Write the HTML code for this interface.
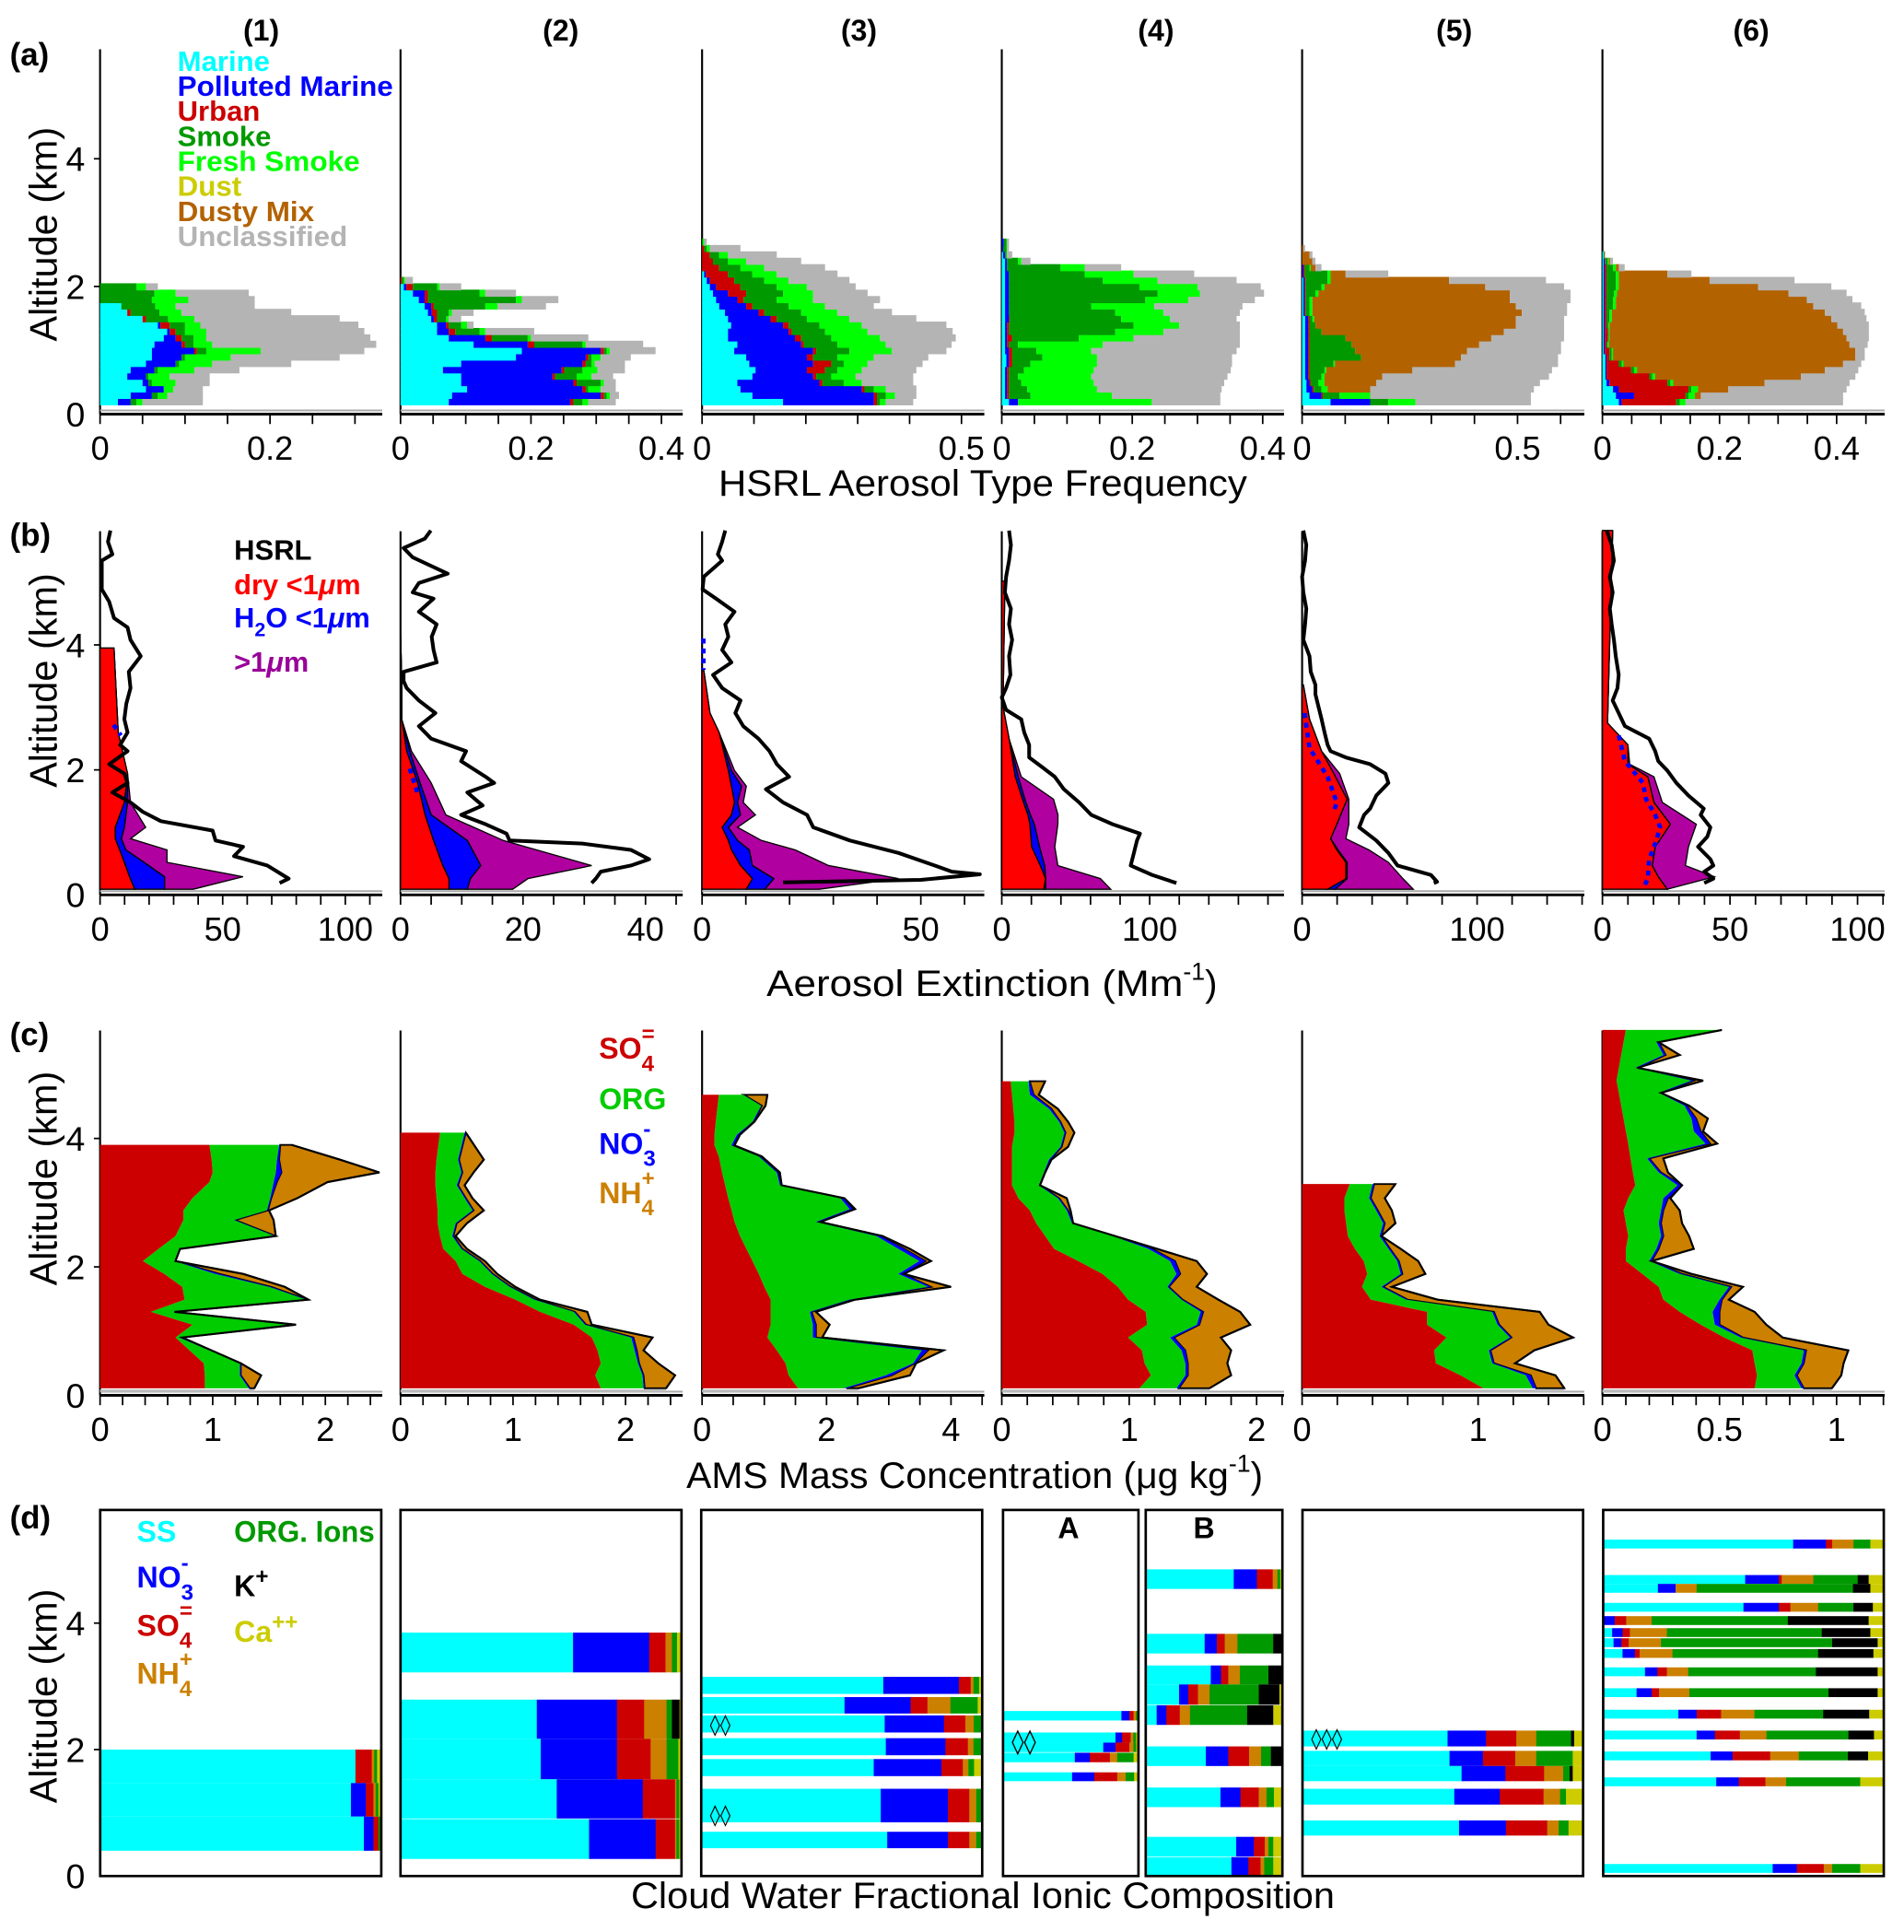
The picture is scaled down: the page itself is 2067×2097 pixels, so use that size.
<!DOCTYPE html>
<html>
<head>
<meta charset="utf-8">
<style>
html,body{margin:0;padding:0;background:#fff;}
svg{display:block;}
text{font-family:"Liberation Sans Narrow","Liberation Sans",sans-serif;}
.b{font-weight:bold;}
</style>
</head>
<body>
<svg id="chart" xmlns="http://www.w3.org/2000/svg" width="2067" height="2097" viewBox="0 0 1545 1567.4" preserveAspectRatio="none">
<rect x="0" y="0" width="1545" height="1567.4" fill="#fff"/>
<g id="static-text" font-size="24">
  <text class="b" x="212" y="33" text-anchor="middle" font-size="24">(1)</text>
  <text class="b" x="455" y="33" text-anchor="middle" font-size="24">(2)</text>
  <text class="b" x="697" y="33" text-anchor="middle" font-size="24">(3)</text>
  <text class="b" x="938" y="33" text-anchor="middle" font-size="24">(4)</text>
  <text class="b" x="1180" y="33" text-anchor="middle" font-size="24">(5)</text>
  <text class="b" x="1421" y="33" text-anchor="middle" font-size="24">(6)</text>
  <text class="b" x="8" y="53" font-size="26">(a)</text>
  <text class="b" x="8" y="443" font-size="26">(b)</text>
  <text class="b" x="8" y="848" font-size="26">(c)</text>
  <text class="b" x="8" y="1240" font-size="26">(d)</text>
  <text transform="translate(46,190) rotate(-90)" text-anchor="middle" font-size="31" style="font-family:'Liberation Sans',sans-serif">Altitude (km)</text>
  <text transform="translate(46,552) rotate(-90)" text-anchor="middle" font-size="31" style="font-family:'Liberation Sans',sans-serif">Altitude (km)</text>
  <text transform="translate(46,956) rotate(-90)" text-anchor="middle" font-size="31" style="font-family:'Liberation Sans',sans-serif">Altitude (km)</text>
  <text transform="translate(46,1376) rotate(-90)" text-anchor="middle" font-size="31" style="font-family:'Liberation Sans',sans-serif">Altitude (km)</text>
  <text x="583" y="402" font-size="30" textLength="429" lengthAdjust="spacingAndGlyphs">HSRL Aerosol Type Frequency</text>
  <text x="622" y="808" font-size="30"><tspan textLength="338" lengthAdjust="spacingAndGlyphs">Aerosol Extinction (Mm</tspan><tspan dy="-13" font-size="20">-1</tspan><tspan dy="13">)</tspan></text>
  <text x="557" y="1207" font-size="30"><tspan textLength="440" lengthAdjust="spacingAndGlyphs">AMS Mass Concentration (μg kg</tspan><tspan dy="-13" font-size="20">-1</tspan><tspan dy="13">)</tspan></text>
  <text x="512" y="1548" font-size="30" textLength="571" lengthAdjust="spacingAndGlyphs">Cloud Water Fractional Ionic Composition</text>

  <g class="b" font-size="23">
    <text x="144" y="57.5" fill="#00FFFF" textLength="75" lengthAdjust="spacingAndGlyphs">Marine</text>
    <text x="144" y="77.8" fill="#0000FF" textLength="175" lengthAdjust="spacingAndGlyphs">Polluted Marine</text>
    <text x="144" y="98.1" fill="#CC0000" textLength="67" lengthAdjust="spacingAndGlyphs">Urban</text>
    <text x="144" y="118.4" fill="#009900" textLength="76" lengthAdjust="spacingAndGlyphs">Smoke</text>
    <text x="144" y="138.7" fill="#00FF00" textLength="148" lengthAdjust="spacingAndGlyphs">Fresh Smoke</text>
    <text x="144" y="159" fill="#CCCC00" textLength="52" lengthAdjust="spacingAndGlyphs">Dust</text>
    <text x="144" y="179.3" fill="#B36200" textLength="111" lengthAdjust="spacingAndGlyphs">Dusty Mix</text>
    <text x="144" y="199.6" fill="#B4B4B4" textLength="138" lengthAdjust="spacingAndGlyphs">Unclassified</text>
  </g>
  <g class="b" font-size="23">
    <text x="190" y="454" fill="#000" textLength="63" lengthAdjust="spacingAndGlyphs">HSRL</text>
    <text x="190" y="482" fill="#FF0000">dry &lt;1<tspan font-style="italic">μ</tspan>m</text>
    <text x="190" y="509" fill="#0000FF">H<tspan dy="7" font-size="16">2</tspan><tspan dy="-7">O &lt;1</tspan><tspan font-style="italic">μ</tspan>m</text>
    <text x="190" y="545" fill="#990099">&gt;1<tspan font-style="italic">μ</tspan>m</text>
  </g>
  <g class="b" font-size="24">
    <text x="486" y="859" fill="#CC0000">SO<tspan dy="10" font-size="18">4</tspan><tspan dx="-10" dy="-24" font-size="18">=</tspan></text>
    <text x="486" y="900" fill="#00CC00">ORG</text>
    <text x="486" y="936" fill="#0000FF">NO<tspan dy="10" font-size="18">3</tspan><tspan dx="-10" dy="-24" font-size="18">-</tspan></text>
    <text x="486" y="976" fill="#CC8000">NH<tspan dy="10" font-size="18">4</tspan><tspan dx="-10" dy="-24" font-size="18">+</tspan></text>
  </g>
  <g class="b" font-size="24">
    <text x="111" y="1251" fill="#00FFFF">SS</text>
    <text x="190" y="1251" fill="#009900" textLength="114" lengthAdjust="spacingAndGlyphs">ORG. Ions</text>
    <text x="111" y="1288" fill="#0000FF">NO<tspan dy="10" font-size="18">3</tspan><tspan dx="-10" dy="-24" font-size="18">-</tspan></text>
    <text x="190" y="1295" fill="#000">K<tspan dy="-10" font-size="18">+</tspan></text>
    <text x="111" y="1327" fill="#CC0000">SO<tspan dy="10" font-size="18">4</tspan><tspan dx="-10" dy="-24" font-size="18">=</tspan></text>
    <text x="190" y="1332" fill="#CCCC00">Ca<tspan dy="-10" font-size="18">++</tspan></text>
    <text x="111" y="1366" fill="#CC8000">NH<tspan dy="10" font-size="18">4</tspan><tspan dx="-10" dy="-24" font-size="18">+</tspan></text>
  </g>
  <text class="b" x="867" y="1248" text-anchor="middle" font-size="24">A</text>
  <text class="b" x="977" y="1248" text-anchor="middle" font-size="24">B</text>
</g>
</svg>
<script>
// ===== Row (a) HSRL aerosol type frequency: cumulative stacks per altitude bin =====
const aAlt1=[0.2,0.3,0.4,0.5,0.6,0.7,0.8,0.9,1.0,1.1,1.2,1.3,1.4,1.5,1.6,1.7,1.8,1.9,2.0];
const aMarine1=[.021,.036,.054,.050,.032,.036,.054,.061,.061,.064,.075,.079,.068,.050,.032,.025,0,0,0];
const aPolluted1=[.036,.061,.075,.057,.054,.064,.089,.096,.111,.096,.089,.082,.071,.050,.032,.025,0,0,0];
const aUrban1=[.036,.061,.075,.057,.054,.064,.089,.096,.114,.100,.096,.089,.082,.054,.036,.025,0,0,0];
const aSmoke1=[.043,.068,.075,.061,.057,.068,.093,.100,.125,.110,.110,.100,.100,.080,.070,.065,.061,.064,.043];
const aFresh1=[.050,.079,.086,.089,.082,.111,.132,.154,.189,.132,.125,.125,.118,.111,.096,.089,.104,.089,.054];
const aTotal1=[.121,.121,.121,.129,.129,.164,.225,.282,.311,.325,.318,.311,.304,.282,.225,.182,.182,.175,.068];

const aAlt2=[0.2,0.3,0.4,0.5,0.6,0.7,0.8,0.9,1.0,1.1,1.2,1.3,1.4,1.5,1.6,1.7,1.8,1.9,2.0,2.1];
const aMarine2=[.074,.079,.102,.093,.093,.065,.093,.177,.186,.112,.074,.056,.056,.047,.042,.037,.028,.019,.005,0];
const aPolluted2=[.260,.307,.279,.265,.233,.247,.279,.284,.307,.195,.130,.074,.070,.051,.048,.047,.037,.037,.009,0];
const aUrban2=[.265,.312,.284,.270,.237,.251,.284,.288,.312,.205,.140,.084,.074,.056,.056,.051,.042,.042,.019,.002];
const aSmoke2=[.279,.316,.288,.307,.270,.279,.293,.293,.316,.279,.195,.121,.093,.070,.074,.130,.177,.121,.056,.005];
const aFresh2=[.288,.321,.307,.312,.293,.302,.298,.307,.321,.284,.200,.130,.102,.074,.079,.149,.186,.130,.060,.007];
const aTotal2=[.330,.335,.330,.330,.326,.344,.344,.353,.391,.372,.288,.205,.112,.093,.112,.223,.242,.177,.093,.019];

const aAlt3=[0.2,0.3,0.4,0.5,0.6,0.7,0.8,0.9,1.0,1.1,1.2,1.3,1.4,1.5,1.6,1.7,1.8,1.9,2.0,2.1,2.2,2.3,2.4,2.5,2.6,2.7];
const aMarine3=[.156,.097,.074,.068,.097,.103,.091,.085,.062,.068,.050,.050,.056,.050,.044,.033,.027,.021,.015,.009,.004,0,0,0,0,0];
const aPolluted3=[.331,.331,.308,.226,.214,.202,.214,.202,.214,.191,.179,.167,.156,.132,.109,.085,.068,.050,.027,.015,.007,0,0,0,0,0];
const aUrban3=[.337,.337,.313,.232,.220,.237,.249,.214,.220,.196,.191,.173,.167,.144,.120,.097,.080,.085,.074,.062,.050,.033,.021,.015,.004,0];
const aSmoke3=[.343,.354,.331,.273,.249,.261,.273,.261,.284,.261,.249,.237,.226,.202,.191,.167,.144,.156,.144,.120,.097,.074,.050,.033,.009,.001];
const aFresh3=[.354,.372,.354,.308,.296,.308,.319,.331,.366,.354,.343,.319,.308,.284,.261,.237,.214,.214,.202,.167,.144,.120,.085,.050,.015,.004];
const aTotal3=[.407,.413,.413,.407,.407,.413,.425,.436,.471,.481,.489,.483,.471,.413,.366,.331,.343,.319,.296,.284,.261,.237,.191,.144,.074,.009];

const aAlt4=[0.2,0.3,0.4,0.5,0.6,0.7,0.8,0.9,1.0,1.1,1.2,1.3,1.4,1.5,1.6,1.7,1.8,1.9,2.0,2.1,2.2,2.3,2.4,2.5,2.6,2.7];
const aMarine4=[.011,.005,.005,.005,.005,.005,.007,.007,.005,.005,.005,.005,.005,.005,.005,.005,.005,.005,.005,.005,.005,.005,.005,.002,0,0];
const aPolluted4=[.025,.008,.008,.008,.008,.008,.011,.011,.011,.008,.008,.008,.008,.011,.011,.011,.011,.011,.011,.011,.011,.008,.008,.005,.002,.003];
const aUrban4=[.025,.011,.011,.011,.011,.011,.016,.016,.016,.011,.016,.011,.011,.012,.011,.011,.011,.011,.011,.011,.011,.008,.008,.005,.002,.003];
const aSmoke4=[.025,.044,.039,.030,.025,.034,.044,.062,.053,.025,.118,.174,.202,.183,.174,.137,.220,.239,.211,.155,.127,.090,.025,.007,.007,.007];
const aFresh4=[.230,.169,.146,.141,.137,.141,.146,.146,.137,.155,.202,.248,.272,.258,.248,.234,.286,.304,.300,.239,.202,.127,.030,.008,.008,.008];
const aTotal4=[.335,.335,.337,.341,.346,.351,.353,.353,.360,.365,.365,.365,.365,.360,.365,.369,.388,.402,.397,.360,.295,.183,.044,.016,.011,.011];

const aAlt5=[0.2,0.3,0.4,0.5,0.6,0.7,0.8,0.9,1.0,1.1,1.2,1.3,1.4,1.5,1.6,1.7,1.8,1.9,2.0,2.1,2.2,2.3,2.4,2.5,2.6];
const aMarine5=[.066,.017,.010,.010,.007,.007,.007,.007,.007,.007,.007,.007,.007,.007,.003,.003,.003,.003,.003,.003,0,0,0,0,0];
const aPolluted5=[.158,.045,.024,.017,.014,.014,.014,.014,.014,.014,.014,.014,.014,.014,.006,.006,.006,.006,.006,.006,.003,.003,0,0,0];
const aUrban5=[.158,.048,.027,.020,.017,.017,.017,.017,.017,.017,.017,.017,.017,.017,.008,.008,.008,.008,.008,.008,.006,.006,0,0,0];
const aSmoke5=[.200,.087,.045,.038,.045,.052,.073,.137,.123,.115,.101,.045,.031,.024,.017,.017,.017,.031,.045,.059,.059,.017,0,0,0];
const aFresh5=[.263,.158,.059,.052,.052,.056,.076,.137,.123,.115,.101,.045,.031,.028,.024,.024,.024,.038,.052,.066,.066,.020,0,0,0];
const aDusty5=[.263,.158,.158,.172,.186,.256,.355,.369,.383,.411,.439,.468,.496,.496,.510,.496,.482,.482,.425,.341,.101,.031,.024,.017,.003];
const aTotal5=[.531,.531,.538,.552,.573,.580,.594,.594,.601,.601,.608,.608,.608,.608,.615,.615,.623,.623,.608,.566,.200,.045,.031,.024,.007];

const aAlt6=[0.2,0.3,0.4,0.5,0.6,0.7,0.8,0.9,1.0,1.1,1.2,1.3,1.4,1.5,1.6,1.7,1.8,1.9,2.0,2.1,2.2,2.3,2.4,2.5];
const aMarine6=[.028,.023,.018,.007,.005,.005,.005,.005,.002,.002,.002,.002,.002,.002,.002,.002,.002,.002,.002,.002,.002,.002,.002,.002];
const aPolluted6=[.033,.054,.028,.012,.007,.007,.007,.007,.004,.004,.004,.004,.004,.004,.004,.004,.004,.004,.004,.004,.004,.004,.004,.002];
const aUrban6=[.126,.142,.147,.111,.080,.049,.028,.012,.012,.007,.009,.009,.007,.007,.007,.007,.007,.007,.007,.007,.007,.007,.005,.002];
const aSmoke6=[.132,.147,.152,.116,.085,.054,.033,.016,.016,.009,.011,.011,.010,.012,.012,.018,.018,.020,.023,.023,.023,.018,.009,.003];
const aFresh6=[.142,.158,.163,.121,.090,.059,.036,.018,.018,.011,.012,.012,.012,.016,.016,.023,.023,.025,.028,.028,.028,.023,.011,.003];
const aDusty6=[.142,.168,.215,.277,.339,.380,.411,.432,.432,.422,.417,.411,.401,.391,.380,.360,.349,.318,.266,.183,.111,.028,.013,.004];
const aTotal6=[.411,.411,.417,.422,.432,.437,.442,.448,.448,.453,.455,.455,.455,.451,.448,.442,.427,.417,.391,.328,.152,.038,.018,.005];

const aTickStep=[0.05,0.05,0.1,0.05,0.1,0.05];
const aTickLabels=[[0,0.2],[0,0.2,0.4],[0,0.5],[0,0.2,0.4],[0,0.5],[0,0.2,0.4]];

// ===== Row (b) extinction =====
const bAlt1=[3.95,2.60,1.94,1.48,1.08,0.90,0.72,0.52,0.29,0.09];
const bDry1=[5.7,7.4,11.2,9.9,6.2,6.2,8.0,9.9,12.0,14.1];
const bWaterCum1=[5.7,7.4,11.2,11.2,9.9,8.7,10.5,17.9,26.3,26.3];
const bCoarseCum1=[5.7,7.4,11.2,12.4,18.6,12.4,27.3,27.3,58.3,38.0];
const bHsrlAlt1=[5.83,5.65,5.45,5.35,4.89,4.69,4.43,4.28,4.08,3.82,3.57,3.31,3.06,2.81,2.60,2.40,2.30,2.09,1.94,1.79,1.64,1.48,1.33,1.18,1.03,0.87,0.77,0.62,0.47,0.32,0.26,0.19];
const bHsrl1=[4.2,3.2,5.0,0.7,0.7,3.7,5.7,11.2,12.4,16.6,11.7,12.4,10.7,9.9,11.2,8.2,11.2,3.7,9.9,11.2,5.0,12.4,17.4,24.8,45.9,47.1,58.3,54.6,68.2,74.4,76.9,73.2];
const bDotAlt1=[2.72,2.55];
const bDot1=[5.5,8.5];

const bAlt2=[4.20,3.42,2.81,2.30,1.79,1.28,0.87,0.47,0.26,0.09];
const bDry2=[0,0.2,0.2,1.0,2.8,4.0,5.4,6.9,7.9,7.9];
const bWaterCum2=[0,0.2,0.2,1.5,3.2,5.0,10.9,13.1,11.4,10.9];
const bCoarseCum2=[0,0.2,0.2,1.8,5.0,7.4,16.8,31.2,20.8,18.3];
const bHsrlAlt2=[5.83,5.70,5.55,5.40,5.14,4.99,4.84,4.74,4.53,4.33,4.13,3.92,3.72,3.57,3.42,3.31,3.11,2.91,2.70,2.50,2.30,2.14,1.89,1.79,1.64,1.43,1.28,1.13,0.98,0.87,0.82,0.72,0.57,0.47,0.37,0.26,0.19];
const bHsrl2=[4.95,3.96,0.5,2.0,7.7,3.0,2.0,5.4,3.0,5.9,5.1,5.4,5.9,0.5,0.5,1.0,3.0,5.7,3.0,5.0,10.7,9.9,13.9,15.3,10.9,13.4,9.9,13.9,17.3,17.8,29.7,37.6,40.6,37.6,32.7,31.9,31.2];
const bDotAlt2=[2.02,1.62];
const bDot2=[1.5,2.8];

const bAlt3=[3.59,2.91,2.60,1.99,1.74,1.48,1.28,1.08,0.87,0.72,0.47,0.26,0.09];
const bDry3=[0.4,1.8,3.9,6.0,6.7,7.4,6.7,4.6,6.0,6.7,8.8,11.5,10.1];
const bWaterCum3=[0.4,1.8,3.9,6.7,9.0,8.1,8.8,6.0,8.1,10.8,11.5,16.4,14.3];
const bCoarseCum3=[0.4,1.8,3.9,7.4,10.1,9.4,12.2,8.1,13.6,21.3,28.9,44.9,26.8];
const bHsrlAlt3=[5.83,5.65,5.45,5.35,5.09,4.89,4.74,4.53,4.33,4.13,3.92,3.72,3.52,3.31,3.11,2.91,2.70,2.50,2.30,2.09,1.89,1.69,1.48,1.28,1.08,0.87,0.67,0.47,0.37,0.33,0.24,0.20];
const bHsrl3=[5.3,4.6,3.6,4.6,0.4,0.1,3.2,7.4,5.3,6.0,4.6,6.7,2.5,4.6,8.8,7.6,9.4,12.9,15.4,17.1,19.9,14.6,18.5,24.0,25.4,33.8,44.9,53.2,57.1,63.5,50.0,18.5];
const bDotAlt3=[4.10,3.60];
const bDot3=[0.3,0.3];

const bAlt4=[5.02,3.01,2.50,1.89,1.53,1.28,1.13,0.77,0.47,0.26,0.09];
const bDry4=[2.1,0.8,4.9,9.1,14,17.7,19,20.2,26,29.6,28.4];
const bWaterCum4=[2.1,0.8,4.9,11.1,15.6,19.3,22,25.5,29,29.6,29.6];
const bCoarseCum4=[2.1,0.8,4.9,13.2,35,38,37.9,35.8,37.9,66.7,73.7];
const bHsrlAlt4=[5.83,5.60,5.35,5.09,4.84,4.58,4.33,4.08,3.82,3.52,3.31,3.16,2.96,2.81,2.60,2.40,2.20,2.04,1.89,1.69,1.48,1.28,1.13,0.98,0.87,0.67,0.47,0.32,0.19];
const bHsrl4=[4.9,6.2,4.9,2.9,2.1,6.2,4.9,7.0,4.9,5.8,2.9,0,2.9,13.2,15.2,18.5,18.5,27.6,35.8,42,52.3,60.5,74.9,93.4,91.4,89.3,87.2,101.6,118.1];
const bDotAlt4=[];
const bDot4=[];

const bAlt5=[3.36,2.81,2.30,1.94,1.53,1.13,0.90,0.72,0.52,0.26,0.09];
const bDry5=[0.7,4.2,11.1,18.1,25.7,19.8,16.3,19.8,25,25,14.6];
const bWaterCum5=[0.7,4.2,11.1,18.1,25.7,19.8,16.3,20.5,25.7,25.7,18.8];
const bCoarseCum5=[0.7,4.2,11.1,21.5,26.7,26.7,25,38.2,49.3,57.6,63.5];
const bHsrlAlt5=[5.83,5.60,5.35,5.09,4.84,4.58,4.33,4.08,3.82,3.57,3.36,3.21,3.01,2.81,2.60,2.40,2.30,2.20,2.09,1.94,1.79,1.59,1.38,1.28,1.08,0.87,0.67,0.47,0.32,0.21,0.19];
const bHsrl5=[0.7,2.4,1.7,0,0.7,2.4,1.7,0.7,4.2,4.9,7.6,7.6,9.4,11.1,12.8,14.6,16.3,25,38.9,47.6,49.3,42.4,38.9,35.4,32.6,42.4,49.3,54.5,73.6,77.1,75.3];
const bDotAlt5=[2.91,2.35,1.89,1.48,1.33];
const bDot5=[1.4,4.2,14.6,19.8,18.1];

const bAlt6=[5.83,2.75,2.40,2.09,1.89,1.48,1.13,0.77,0.47,0.29,0.09];
const bDry6=[4.0,2.0,10,10,17.8,20.2,26.6,20.7,19.5,21.9,25.4];
const bWaterCum6=[4.0,2.0,10,10,17.8,20.2,26.6,20.7,19.5,21.9,25.4];
const bCoarseCum6=[4.0,2.0,10,10.7,20.2,23.5,36.8,33.7,32.5,43.9,25.4];
const bHsrlAlt6=[5.83,5.60,5.35,5.09,4.84,4.58,4.33,4.08,3.82,3.52,3.31,3.11,2.91,2.70,2.50,2.30,2.14,1.99,1.79,1.59,1.38,1.28,1.08,0.93,0.77,0.57,0.47,0.37,0.26,0.19];
const bHsrl6=[1.7,3.6,4.5,2.9,4.0,2.9,3.6,4.5,5.2,6.4,5.9,4.0,6.4,8.8,18.3,20.7,21.9,25.4,29,33.7,39.7,38.5,42.3,41.1,37.5,42.3,43.5,39.9,43.5,39.9];
const bDotAlt6=[2.55,2.14,1.79,1.53,1.28,1.08,0.87,0.57,0.26,0.09];
const bDot6=[6.4,8.8,15.9,17.1,20.7,22.6,21.1,18.3,17.8,15.9];

const bTickStep=[10,5,10,20,20,10];
const bTickLabels=[[0,50,100],[0,20,40],[0,50],[0,100],[0,100],[0,50,100]];

// ===== Row (c) AMS mass concentration (cumulative edges + nitrate width) =====
const cAlt1=[3.90,3.67,3.47,3.32,3.07,2.88,2.73,2.48,2.28,2.09,1.89,1.69,1.49,1.30,1.10,0.90,0.50,0.31,0.11];
const cSO4_1=[0.97,0.99,1.00,0.97,0.82,0.74,0.74,0.67,0.52,0.38,0.57,0.73,0.75,0.45,0.82,0.67,0.92,0.93,0.93];
const cOrgCum1=[1.59,1.57,1.56,1.54,1.51,1.48,1.19,1.55,0.70,0.66,1.02,1.50,1.83,0.65,1.73,0.70,1.24,1.24,1.32];
const cNO3_1=[0.01,0.02,0.05,0.03,0.01,0.01,0.01,0.01,0.01,0.01,0.04,0.02,0.01,0.01,0.01,0.03,0.01,0.01,0.01];
const cTotal1=[1.70,2.13,2.48,2.02,1.75,1.50,1.54,1.56,0.71,0.67,1.27,1.64,1.85,0.65,1.74,0.73,1.24,1.43,1.37];

const cAlt2=[4.09,3.67,3.47,3.27,3.07,2.88,2.68,2.48,2.28,2.09,1.89,1.69,1.49,1.30,1.10,0.90,0.70,0.50,0.31,0.11];
const cSO4_2=[0.35,0.32,0.31,0.31,0.32,0.33,0.33,0.35,0.38,0.49,0.55,0.75,1.02,1.24,1.54,1.70,1.75,1.78,1.73,1.78];
const cOrgCum2=[0.57,0.51,0.54,0.50,0.57,0.64,0.49,0.46,0.54,0.70,0.81,0.97,1.19,1.54,1.64,2.05,2.08,2.11,2.15,2.16];
const cNO3_2=[0.01,0.01,0.01,0.01,0.01,0.01,0.01,0.01,0.01,0.01,0.01,0.01,0.01,0.01,0.01,0.02,0.02,0.01,0.01,0.01];
const cTotal2=[0.58,0.74,0.65,0.57,0.64,0.74,0.59,0.49,0.59,0.75,0.86,1.02,1.24,1.66,1.70,2.24,2.16,2.29,2.44,2.36];

const cAlt3=[4.68,4.51,4.26,4.06,3.89,3.72,3.47,3.27,3.07,2.90,2.70,2.48,2.28,2.09,1.89,1.69,1.49,1.30,1.10,0.90,0.70,0.50,0.31,0.11];
const cSO4_3=[0.27,0.25,0.22,0.20,0.20,0.27,0.32,0.37,0.42,0.47,0.52,0.61,0.71,0.81,0.91,1.00,1.10,1.10,1.10,1.05,1.20,1.34,1.39,1.54];
const cOrgCum3=[0.66,0.95,0.81,0.56,0.47,0.91,1.20,1.25,2.22,2.37,1.83,2.80,3.15,3.49,3.15,3.63,2.37,1.73,1.78,1.78,3.53,3.39,2.95,2.27];
const cNO3_3=[0.01,0.01,0.02,0.03,0.03,0.02,0.02,0.02,0.05,0.05,0.04,0.06,0.10,0.10,0.08,0.05,0.03,0.03,0.05,0.05,0.10,0.03,0.10,0.05];
const cTotal3=[1.05,1.02,0.84,0.61,0.52,0.96,1.25,1.28,2.29,2.46,1.90,2.90,3.34,3.68,3.24,4.00,2.46,1.83,2.05,1.93,3.88,3.44,3.34,2.51];

const cAlt4=[4.89,4.68,4.46,4.26,4.09,3.87,3.67,3.47,3.27,3.07,2.88,2.68,2.48,2.28,2.09,1.89,1.69,1.49,1.30,1.10,0.90,0.70,0.50,0.31,0.11];
const cSO4_4=[0.07,0.08,0.09,0.10,0.10,0.08,0.08,0.08,0.08,0.13,0.22,0.27,0.34,0.41,0.60,0.79,0.91,0.99,1.13,1.14,0.99,1.10,1.12,1.17,1.08];
const cOrgCum4=[0.21,0.22,0.37,0.45,0.49,0.46,0.37,0.33,0.29,0.44,0.51,0.55,0.87,1.15,1.32,1.37,1.30,1.41,1.56,1.53,1.32,1.41,1.44,1.44,1.37];
const cNO3_4=[0.01,0.03,0.02,0.01,0.01,0.01,0.01,0.01,0.01,0.01,0.01,0.01,0.01,0.03,0.04,0.03,0.01,0.01,0.02,0.02,0.03,0.03,0.02,0.02,0.02];
const cTotal4=[0.34,0.29,0.44,0.52,0.57,0.52,0.39,0.34,0.30,0.51,0.54,0.56,0.89,1.22,1.53,1.61,1.53,1.70,1.87,1.95,1.72,1.80,1.77,1.80,1.63];

const cAlt5=[3.29,3.07,2.88,2.68,2.48,2.28,2.09,1.89,1.69,1.49,1.30,1.10,0.90,0.70,0.50,0.31,0.11];
const cSO4_5=[0.27,0.24,0.24,0.25,0.26,0.30,0.35,0.37,0.34,0.39,0.71,0.71,0.82,0.75,0.76,0.90,1.03];
const cOrgCum5=[0.40,0.38,0.42,0.46,0.44,0.49,0.54,0.56,0.45,0.59,1.08,1.11,1.18,1.06,1.08,1.27,1.31];
const cNO3_5=[0.01,0.01,0.01,0.01,0.01,0.01,0.01,0.01,0.01,0.01,0.01,0.01,0.01,0.01,0.01,0.03,0.02];
const cTotal5=[0.53,0.47,0.51,0.53,0.44,0.56,0.66,0.70,0.51,0.77,1.35,1.40,1.54,1.32,1.21,1.44,1.49];

const cAlt6=[5.69,5.50,5.30,5.10,4.90,4.71,4.51,4.31,4.11,3.92,3.69,3.47,3.27,3.07,2.88,2.68,2.48,2.28,2.09,1.89,1.69,1.49,1.30,1.10,0.90,0.70,0.50,0.31,0.11];
const cSO4_6=[0.10,0.09,0.08,0.07,0.06,0.07,0.08,0.09,0.10,0.11,0.12,0.13,0.14,0.11,0.09,0.10,0.11,0.10,0.10,0.17,0.24,0.26,0.33,0.42,0.52,0.64,0.65,0.66,0.65];
const cOrgCum6=[0.50,0.23,0.26,0.14,0.38,0.24,0.35,0.38,0.39,0.44,0.19,0.24,0.32,0.26,0.25,0.24,0.25,0.23,0.20,0.33,0.54,0.50,0.47,0.48,0.59,0.86,0.85,0.82,0.85];
const cNO3_6=[0.01,0.01,0.01,0.01,0.01,0.01,0.01,0.02,0.03,0.02,0.01,0.01,0.02,0.02,0.01,0.01,0.01,0.01,0.01,0.01,0.01,0.01,0.03,0.02,0.01,0.01,0.01,0.01,0.01];
const cTotal6=[0.51,0.24,0.33,0.15,0.43,0.25,0.37,0.45,0.43,0.49,0.26,0.28,0.34,0.29,0.33,0.34,0.37,0.39,0.21,0.38,0.60,0.54,0.65,0.70,0.77,1.05,1.03,1.02,0.98];

const cTickStep=[0.2,0.2,0.5,0.2,0.2,0.1];
const cTickLabels=[[0,1,2],[0,1,2],[0,2,4],[0,1,2],[0,1],[0,0.5,1]];

// ===== Row (d) cloud water ionic fractions: cumulative SS, NO3, SO4, NH4, ORG, K (Ca fills rest) =====
const dBottom1=[1.47,0.94,0.40];
const dTop1=[2.0,1.47,0.94];
const dCum1=[[.908,.908,.966,.975,.985,.985],[.892,.945,.972,.98,.99,.99],[.938,.972,.99,.99,.998,.998]];
const dBottom2=[3.22,2.17,1.53,0.91,0.27];
const dTop2=[3.85,2.79,2.17,1.53,0.90];
const dCum2=[[.614,.885,.943,.966,.984,.984],[.485,.770,.867,.947,.966,.993],[.499,.770,.890,.947,.989,.989],[.556,.862,.977,.982,.992,.992],[.671,.908,.977,.982,.992,.992]];
const dBottom3=[2.88,2.57,2.27,1.91,1.58,0.85,0.44];
const dTop3=[3.15,2.83,2.54,2.18,1.85,1.38,0.70];
const dCum3=[[.648,.917,.959,.969,.989,.989],[.510,.745,.805,.887,.984,.984],[.653,.864,.940,.970,1,1],[.657,.869,.949,.969,1,1],[.614,.855,.931,.951,.971,.971],[.639,.878,.954,.979,1,1],[.662,.878,.954,.979,1,1]];
const dBottomA=[2.46,2.11,1.96,1.80,1.50];
const dTopA=[2.61,2.27,2.11,1.95,1.64];
const dCumA=[[.874,.933,.964,.982,.99,.99],[.83,.879,.942,.962,.982,.982],[.74,.83,.933,.963,.983,.983],[.53,.641,.789,.843,.964,.964],[.51,.673,.843,.906,.968,.968]];
const dBottomB=[4.54,3.52,3.03,2.71,2.39,1.74,1.09,0.31,0.0];
const dTopB=[4.85,3.83,3.33,3.03,2.70,2.05,1.40,0.62,0.30];
const dCumB=[[.644,.813,.929,.964,.984,.984],[.431,.52,.578,.671,.933,1],[.476,.551,.604,.689,.898,1],[.244,.311,.382,.467,.827,.978],[.08,.151,.249,.324,.742,.933],[.44,.604,.756,.844,.916,1],[.547,.693,.827,.884,.938,.938],[.662,.791,.871,.898,.933,.933],[.627,.751,.84,.867,.933,.933]];
const dBottom5=[2.05,1.74,1.50,1.13,0.64];
const dTop5=[2.30,1.98,1.74,1.38,0.88];
const dCum5=[[.517,.654,.762,.833,.957,.968],[.524,.643,.758,.833,.963,.963],[.567,.723,.861,.929,.952,.963],[.541,.703,.859,.918,.939,.939],[.558,.725,.872,.913,.948,.948]];
const dBottom6=[5.18,4.62,4.48,4.18,3.97,3.78,3.62,3.45,3.16,2.83,2.49,2.16,1.83,1.42,0.05];
const dTop6=[5.32,4.76,4.62,4.32,4.11,3.92,3.76,3.59,3.30,2.97,2.63,2.30,1.97,1.56,0.19];
const dCum6=[[.677,.794,.816,.892,.952,.952],[.506,.626,.636,.749,.907,.946],[.195,.258,.258,.333,.89,.952],[.5,.626,.667,.766,.892,.961],[0,.041,.082,.173,.658,.946],[.032,.069,.095,.227,.779,.952],[.037,.065,.091,.206,.816,.978],[.069,.113,.13,.247,.766,.963],[.149,.193,.227,.303,.758,.978],[.119,.173,.199,.307,.803,.978],[.268,.333,.42,.539,.784,.948],[.333,.398,.487,.582,.874,.965],[.383,.461,.595,.697,.872,.944],[.403,.483,.578,.652,.916,.916],[.604,.69,.786,.816,.916,.916]];
const dMarkerAlt=[2.40,0.97,2.12,2.18];

// ===== Layout (not data) =====
const NS='http://www.w3.org/2000/svg';
const svg=document.getElementById('chart');
const PX0=[81.2,325,569.7,812.9,1056.6,1300.3];
const AXLEN=229;
const ROW={a:{y0:336,k:51.8,top:40},b:{y0:726,k:50.7,top:431},c:{y0:1132,k:52.1,top:836},d:{y0:1522,k:51.3,top:1225}};
const aScale=[689.5,529.3,421,529.3,349.6,475.1];
const bScale=[1.99,4.97,3.55,1.20,1.42,2.07];
const cScale=[91.4,91.3,50.5,103.4,142.8,190];
const D_BOX_X=[[81.3,309.4],[325,553],[569,797],[813.9,923.8],[929.7,1040.6],[1056.9,1284.6],[1300.9,1528.6]];

function el(tag,attrs,parent){const e=document.createElementNS(NS,tag);for(const k in attrs)e.setAttribute(k,attrs[k]);(parent||svg).appendChild(e);return e;}
function yOf(row,km){return ROW[row].y0-km*ROW[row].k;}

// ---- axes ----
['a','b','c'].forEach(function(row){
  const steps=row==='a'?aTickStep:row==='b'?bTickStep:cTickStep;
  const labels=row==='a'?aTickLabels:row==='b'?bTickLabels:cTickLabels;
  const scale=row==='a'?aScale:row==='b'?bScale:cScale;
  for(let p=0;p<6;p++){
    const g=el('g',{});
    
    
    const x0=PX0[p], y0=ROW[row].y0;
    const yl=el('line',{x1:x0,y1:ROW[row].top,x2:x0,y2:y0,stroke:'#000','stroke-width':1.6},g);
    
    
    const gl=el('line',{x1:x0,y1:y0-3,x2:x0+AXLEN,y2:y0-3,stroke:'#aaa','stroke-width':1.5},g);
    
    
    const xl=el('line',{x1:x0,y1:y0,x2:x0+AXLEN,y2:y0,stroke:'#000','stroke-width':2.2},g);
    
    
    const n=Math.floor(AXLEN/(steps[p]*scale[p])+1e-6);
    for(let i=0;i<=n;i++){
      const x=x0+i*steps[p]*scale[p];
      const t=el('line',{x1:x,y1:y0,x2:x,y2:y0+8,stroke:'#000','stroke-width':1.3},g);
      
      
    }
    labels[p].forEach(function(v){
      const tx=el('text',{x:x0+v*scale[p],y:y0+37,'text-anchor':'middle','font-size':27},g);
      
      
      tx.textContent=String(v);
    });
  }
});
// y tick labels in first column
['a','b','c','d'].forEach(function(row){
  [0,2,4].forEach(function(v){
    const y=yOf(row,v);
    const t=el('text',{x:69,y:y+10,'text-anchor':'end','font-size':28});
    
    
    t.textContent=String(v);
    if(v>0){
      const tk=el('line',{x1:PX0[0]-5,y1:y,x2:PX0[0],y2:y,stroke:'#000','stroke-width':1.3});
      
      
    }
  });
});

// ---- Row (a) ----
const aPanels=[
 [aAlt1,[aMarine1,aPolluted1,aUrban1,aSmoke1,aFresh1,aFresh1,aTotal1]],
 [aAlt2,[aMarine2,aPolluted2,aUrban2,aSmoke2,aFresh2,aFresh2,aTotal2]],
 [aAlt3,[aMarine3,aPolluted3,aUrban3,aSmoke3,aFresh3,aFresh3,aTotal3]],
 [aAlt4,[aMarine4,aPolluted4,aUrban4,aSmoke4,aFresh4,aFresh4,aTotal4]],
 [aAlt5,[aMarine5,aPolluted5,aUrban5,aSmoke5,aFresh5,aDusty5,aTotal5]],
 [aAlt6,[aMarine6,aPolluted6,aUrban6,aSmoke6,aFresh6,aDusty6,aTotal6]]
];
const aColors=['#00FFFF','#0000FF','#CC0000','#009900','#00FF00','#B36200','#B4B4B4'];
const aNames=['marine','polluted-marine','urban','smoke','fresh-smoke','dusty-mix','unclassified'];
aPanels.forEach(function(pd,p){
  const g=el('g',{});
  
  
  const alts=pd[0], layers=pd[1];
  alts.forEach(function(alt,i){
    let prev=0;
    layers.forEach(function(arr,j){
      const v=Math.max(arr[i],prev);
      if(v>prev){
        const yT=yOf('a',alt+0.05), h=0.1*ROW.a.k+0.6;
        const r=el('rect',{x:PX0[p]+prev*aScale[p],y:yT,width:(v-prev)*aScale[p],height:h,fill:aColors[j]},g);
        
        
      }
      prev=v;
    });
  });
});

// ---- Row (b) ----
const bPanels=[
 [bAlt1,bDry1,bWaterCum1,bCoarseCum1,bHsrlAlt1,bHsrl1,bDotAlt1,bDot1],
 [bAlt2,bDry2,bWaterCum2,bCoarseCum2,bHsrlAlt2,bHsrl2,bDotAlt2,bDot2],
 [bAlt3,bDry3,bWaterCum3,bCoarseCum3,bHsrlAlt3,bHsrl3,bDotAlt3,bDot3],
 [bAlt4,bDry4,bWaterCum4,bCoarseCum4,bHsrlAlt4,bHsrl4,bDotAlt4,bDot4],
 [bAlt5,bDry5,bWaterCum5,bCoarseCum5,bHsrlAlt5,bHsrl5,bDotAlt5,bDot5],
 [bAlt6,bDry6,bWaterCum6,bCoarseCum6,bHsrlAlt6,bHsrl6,bDotAlt6,bDot6]
];
function bandPoints(row,p,scale,alts,lo,hi){
  const pts=[];
  for(let i=0;i<alts.length;i++)pts.push((PX0[p]+hi[i]*scale).toFixed(1)+','+yOf(row,alts[i]).toFixed(1));
  for(let i=alts.length-1;i>=0;i--)pts.push((PX0[p]+(lo?lo[i]:0)*scale).toFixed(1)+','+yOf(row,alts[i]).toFixed(1));
  return pts.join(' ');
}
bPanels.forEach(function(pd,p){
  const g=el('g',{});
  
  
  const alts=pd[0], s=bScale[p];
  const purple=el('polygon',{points:bandPoints('b',p,s,alts,pd[2],pd[3]),fill:'#B000A0',stroke:'#000','stroke-width':1},g);
  
  
  const blue=el('polygon',{points:bandPoints('b',p,s,alts,pd[1],pd[2]),fill:'#0000FF',stroke:'#000','stroke-width':1},g);
  
  
  const red=el('polygon',{points:bandPoints('b',p,s,alts,null,pd[1]),fill:'#FF0000',stroke:'#000','stroke-width':1},g);
  
  
  const hp=pd[4].map(function(a,i){return (PX0[p]+pd[5][i]*s).toFixed(1)+','+yOf('b',a).toFixed(1);}).join(' ');
  const hl=el('polyline',{points:hp,fill:'none',stroke:'#000','stroke-width':3,'stroke-linejoin':'round'},g);
  
  
  if(pd[6].length){
    const dp=pd[6].map(function(a,i){return (PX0[p]+pd[7][i]*s).toFixed(1)+','+yOf('b',a).toFixed(1);}).join(' ');
    const dl=el('polyline',{points:dp,fill:'none',stroke:'#0000FF','stroke-width':3.5,'stroke-dasharray':'4 4'},g);
    
    
  }
});

// ---- Row (c) ----
const cPanels=[
 [cAlt1,cSO4_1,cOrgCum1,cNO3_1,cTotal1],
 [cAlt2,cSO4_2,cOrgCum2,cNO3_2,cTotal2],
 [cAlt3,cSO4_3,cOrgCum3,cNO3_3,cTotal3],
 [cAlt4,cSO4_4,cOrgCum4,cNO3_4,cTotal4],
 [cAlt5,cSO4_5,cOrgCum5,cNO3_5,cTotal5],
 [cAlt6,cSO4_6,cOrgCum6,cNO3_6,cTotal6]
];
cPanels.forEach(function(pd,p){
  const g=el('g',{});
  
  
  const alts=pd[0], s=cScale[p];
  const no3Cum=pd[2].map(function(v,i){return v+pd[3][i];});
  const tot=pd[4].map(function(v,i){return Math.max(v,no3Cum[i]);});
  const nh4=el('polygon',{points:bandPoints('c',p,s,alts,no3Cum,tot),fill:'#CC8000',stroke:'#000','stroke-width':1.4},g);
  
  
  const no3=el('polygon',{points:bandPoints('c',p,s,alts,pd[2],no3Cum),fill:'#0000FF'},g);
  
  
  const org=el('polygon',{points:bandPoints('c',p,s,alts,pd[1],pd[2]),fill:'#00CC00'},g);
  
  
  const so4=el('polygon',{points:bandPoints('c',p,s,alts,null,pd[1]),fill:'#CC0000'},g);
  
  
  const op=alts.map(function(a,i){return (PX0[p]+tot[i]*s).toFixed(1)+','+yOf('c',a).toFixed(1);}).join(' ');
  const ol=el('polyline',{points:op,fill:'none',stroke:'#000','stroke-width':1.6},g);
  
  
  const bl=el('line',{x1:PX0[p],y1:yOf('c',alts[alts.length-1])+2,x2:PX0[p]+tot[alts.length-1]*s,y2:yOf('c',alts[alts.length-1])+2,stroke:'#bbb','stroke-width':2},g);
  
  
});

// ---- Row (d) ----
const dPanels=[[dBottom1,dTop1,dCum1],[dBottom2,dTop2,dCum2],[dBottom3,dTop3,dCum3],[dBottomA,dTopA,dCumA],[dBottomB,dTopB,dCumB],[dBottom5,dTop5,dCum5],[dBottom6,dTop6,dCum6]];
const dColors=['#00FFFF','#0000FF','#CC0000','#CC8000','#009900','#000000','#CCCC00'];
const dNames=['sea-salt','nitrate','sulfate','ammonium','org-ions','potassium','calcium'];
dPanels.forEach(function(pd,b){
  const g=el('g',{});
  
  
  const xl=D_BOX_X[b][0], xr=D_BOX_X[b][1], w=xr-xl;
  pd[0].forEach(function(bot,i){
    const yT=yOf('d',pd[1][i]), yB=yOf('d',bot);
    let prev=0;
    const cum=pd[2][i].concat([1]);
    cum.forEach(function(v,j){
      if(v>prev){
        const r=el('rect',{x:xl+prev*w,y:yT,width:(v-prev)*w+0.3,height:yB-yT,fill:dColors[j]},g);
        
        
      }
      prev=Math.max(prev,v);
    });
  });
  const frame=el('rect',{x:xl,y:ROW.d.top,width:w,height:ROW.d.y0-ROW.d.top,fill:'none',stroke:'#000','stroke-width':2},g);
  
  
});
// diamond markers
[[2,dMarkerAlt[0],2],[2,dMarkerAlt[1],2],[3,dMarkerAlt[2],2],[5,dMarkerAlt[3],3]].forEach(function(m){
  const xl=D_BOX_X[m[0]][0];
  const t=el('text',{x:xl+7,y:yOf('d',m[1])+6,'font-size':m[0]===3?20:17,style:"font-family:'DejaVu Sans',sans-serif"});
  
  
  t.textContent=m[2]===3?'◊◊◊':'◊◊';
});
</script>
</body>
</html>
